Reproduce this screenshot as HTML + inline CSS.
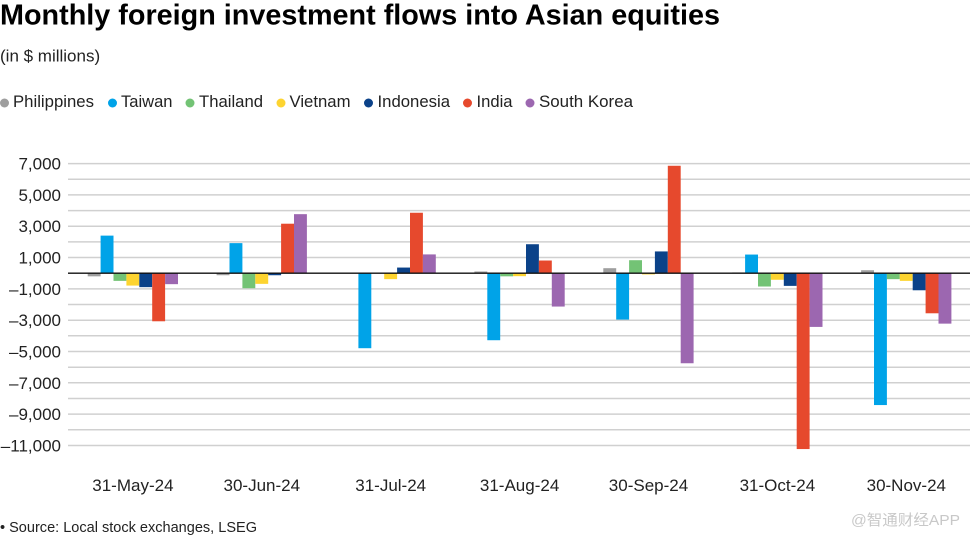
<!DOCTYPE html>
<html><head><meta charset="utf-8"><style>
html,body{margin:0;padding:0;background:#fff;}
svg{display:block;font-family:"Liberation Sans",Arial,sans-serif;}
</style></head><body>
<svg width="970" height="538" viewBox="0 0 970 538" xmlns="http://www.w3.org/2000/svg">
<text x="0" y="24.5" font-size="29" font-weight="bold" fill="#000" textLength="720" lengthAdjust="spacingAndGlyphs">Monthly foreign investment flows into Asian equities</text>
<text x="0" y="61.5" font-size="17" fill="#222">(in $ millions)</text>
<g font-size="16.5" fill="#222">
<circle cx="4.5" cy="103" r="4.5" fill="#9e9e9e"/><text x="13" y="107" textLength="81" lengthAdjust="spacingAndGlyphs">Philippines</text>
<circle cx="112.5" cy="103" r="4.5" fill="#00a3e8"/><text x="121" y="107" textLength="51.5" lengthAdjust="spacingAndGlyphs">Taiwan</text>
<circle cx="190" cy="103" r="4.5" fill="#73c375"/><text x="199" y="107" textLength="64" lengthAdjust="spacingAndGlyphs">Thailand</text>
<circle cx="281" cy="103" r="4.5" fill="#fdd430"/><text x="289.5" y="107" textLength="61" lengthAdjust="spacingAndGlyphs">Vietnam</text>
<circle cx="368.5" cy="103" r="4.5" fill="#0b4289"/><text x="377.5" y="107" textLength="72.5" lengthAdjust="spacingAndGlyphs">Indonesia</text>
<circle cx="467.5" cy="103" r="4.5" fill="#e6492d"/><text x="476.5" y="107" textLength="36" lengthAdjust="spacingAndGlyphs">India</text>
<circle cx="530" cy="103" r="4.5" fill="#9c67b0"/><text x="539" y="107" textLength="94" lengthAdjust="spacingAndGlyphs">South Korea</text>
</g>
<g stroke="#d0d0d0" stroke-width="1.5">
<line x1="68" x2="970" y1="163.6" y2="163.6"/>
<line x1="68" x2="970" y1="179.2" y2="179.2"/>
<line x1="68" x2="970" y1="194.9" y2="194.9"/>
<line x1="68" x2="970" y1="210.6" y2="210.6"/>
<line x1="68" x2="970" y1="226.2" y2="226.2"/>
<line x1="68" x2="970" y1="241.9" y2="241.9"/>
<line x1="68" x2="970" y1="257.5" y2="257.5"/>
<line x1="68" x2="970" y1="288.9" y2="288.9"/>
<line x1="68" x2="970" y1="304.5" y2="304.5"/>
<line x1="68" x2="970" y1="320.2" y2="320.2"/>
<line x1="68" x2="970" y1="335.8" y2="335.8"/>
<line x1="68" x2="970" y1="351.5" y2="351.5"/>
<line x1="68" x2="970" y1="367.2" y2="367.2"/>
<line x1="68" x2="970" y1="382.8" y2="382.8"/>
<line x1="68" x2="970" y1="398.5" y2="398.5"/>
<line x1="68" x2="970" y1="414.1" y2="414.1"/>
<line x1="68" x2="970" y1="429.8" y2="429.8"/>
<line x1="68" x2="970" y1="445.5" y2="445.5"/>
</g>
<g font-size="17" fill="#222" text-anchor="end">
<text x="61" y="169.6">7,000</text>
<text x="61" y="200.9">5,000</text>
<text x="61" y="232.2">3,000</text>
<text x="61" y="263.5">1,000</text>
<text x="61" y="294.9">–1,000</text>
<text x="61" y="326.2">–3,000</text>
<text x="61" y="357.5">–5,000</text>
<text x="61" y="388.8">–7,000</text>
<text x="61" y="420.1">–9,000</text>
<text x="61" y="451.5">–11,000</text>
</g>
<!-- May -->
<rect x="87.7" y="273.2" width="12.9" height="3.13" fill="#9e9e9e"/>
<rect x="100.6" y="235.62" width="12.9" height="37.58" fill="#00a3e8"/>
<rect x="113.5" y="273.2" width="12.9" height="7.67" fill="#73c375"/>
<rect x="126.4" y="273.2" width="12.9" height="12.37" fill="#fdd430"/>
<rect x="139.3" y="273.2" width="12.9" height="13.94" fill="#0b4289"/>
<rect x="152.2" y="273.2" width="12.9" height="48.08" fill="#e6492d"/>
<rect x="165.1" y="273.2" width="12.9" height="10.96" fill="#9c67b0"/>
<!-- Jun -->
<rect x="216.6" y="273.2" width="12.9" height="2.04" fill="#9e9e9e"/>
<rect x="229.5" y="243.13" width="12.9" height="30.07" fill="#00a3e8"/>
<rect x="242.4" y="273.2" width="12.9" height="15.03" fill="#73c375"/>
<rect x="255.3" y="273.2" width="12.9" height="10.65" fill="#fdd430"/>
<rect x="268.2" y="273.2" width="12.9" height="2.04" fill="#0b4289"/>
<rect x="281.1" y="223.71" width="12.9" height="49.49" fill="#e6492d"/>
<rect x="294.0" y="214.16" width="12.9" height="59.04" fill="#9c67b0"/>
<!-- Jul -->
<rect x="358.4" y="273.2" width="12.9" height="75.01" fill="#00a3e8"/>
<rect x="384.2" y="273.2" width="12.9" height="5.95" fill="#fdd430"/>
<rect x="397.1" y="267.56" width="12.9" height="5.64" fill="#0b4289"/>
<rect x="410.0" y="212.75" width="12.9" height="60.45" fill="#e6492d"/>
<rect x="422.9" y="254.41" width="12.9" height="18.79" fill="#9c67b0"/>
<!-- Aug -->
<rect x="474.4" y="271.48" width="12.9" height="1.72" fill="#9e9e9e"/>
<rect x="487.3" y="273.2" width="12.9" height="67.02" fill="#00a3e8"/>
<rect x="500.2" y="273.2" width="12.9" height="3.13" fill="#73c375"/>
<rect x="513.1" y="273.2" width="12.9" height="2.98" fill="#fdd430"/>
<rect x="526.0" y="244.23" width="12.9" height="28.97" fill="#0b4289"/>
<rect x="538.9" y="260.52" width="12.9" height="12.68" fill="#e6492d"/>
<rect x="551.8" y="273.2" width="12.9" height="33.36" fill="#9c67b0"/>
<!-- Sep -->
<rect x="603.3" y="268.19" width="12.9" height="5.01" fill="#9e9e9e"/>
<rect x="616.2" y="273.2" width="12.9" height="46.35" fill="#00a3e8"/>
<rect x="629.1" y="260.2" width="12.9" height="13.0" fill="#73c375"/>
<rect x="642.0" y="273.2" width="12.9" height="1.25" fill="#fdd430"/>
<rect x="654.9" y="251.43" width="12.9" height="21.77" fill="#0b4289"/>
<rect x="667.8" y="165.77" width="12.9" height="107.43" fill="#e6492d"/>
<rect x="680.7" y="273.2" width="12.9" height="90.05" fill="#9c67b0"/>
<!-- Oct -->
<rect x="732.2" y="272.4" width="12.9" height="0.8" fill="#9e9e9e"/>
<rect x="745.1" y="254.56" width="12.9" height="18.64" fill="#00a3e8"/>
<rect x="758.0" y="273.2" width="12.9" height="13.31" fill="#73c375"/>
<rect x="770.9" y="273.2" width="12.9" height="6.58" fill="#fdd430"/>
<rect x="783.8" y="273.2" width="12.9" height="12.68" fill="#0b4289"/>
<rect x="796.7" y="273.2" width="12.9" height="175.86" fill="#e6492d"/>
<rect x="809.6" y="273.2" width="12.9" height="53.71" fill="#9c67b0"/>
<!-- Nov -->
<rect x="861.1" y="270.22" width="12.9" height="2.98" fill="#9e9e9e"/>
<rect x="874.0" y="273.2" width="12.9" height="131.86" fill="#00a3e8"/>
<rect x="886.9" y="273.2" width="12.9" height="5.95" fill="#73c375"/>
<rect x="899.8" y="273.2" width="12.9" height="7.67" fill="#fdd430"/>
<rect x="912.7" y="273.2" width="12.9" height="17.07" fill="#0b4289"/>
<rect x="925.6" y="273.2" width="12.9" height="40.09" fill="#e6492d"/>
<rect x="938.5" y="273.2" width="12.9" height="50.43" fill="#9c67b0"/>
<line x1="68" x2="970" y1="273.2" y2="273.2" stroke="#111" stroke-width="1.3"/>
<g font-size="17" fill="#222" text-anchor="middle">
<text x="132.9" y="491">31-May-24</text>
<text x="261.8" y="491">30-Jun-24</text>
<text x="390.7" y="491">31-Jul-24</text>
<text x="519.6" y="491">31-Aug-24</text>
<text x="648.5" y="491">30-Sep-24</text>
<text x="777.4" y="491">31-Oct-24</text>
<text x="906.3" y="491">30-Nov-24</text>
</g>
<text x="0" y="532" font-size="14.5" fill="#222" textLength="257" lengthAdjust="spacingAndGlyphs">• Source: Local stock exchanges, LSEG</text>
<text x="851" y="525" font-size="15" fill="#c8c8c8" font-family="'Liberation Sans','Noto Sans CJK SC',sans-serif" textLength="109" lengthAdjust="spacingAndGlyphs">@智通财经APP</text>
</svg>
</body></html>
